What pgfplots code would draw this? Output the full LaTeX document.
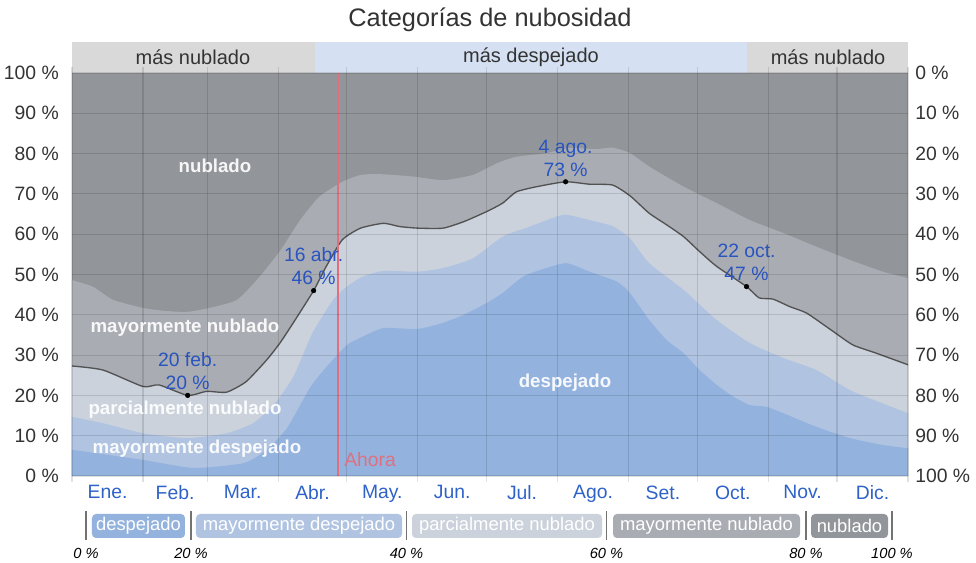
\documentclass[border=0pt]{standalone}
\usepackage{pgfplots}
\pgfplotsset{compat=1.18}
\usepackage{pgfplotstable}
\usepackage{fontspec}
\setmainfont{Liberation Sans}

\definecolor{cdesp}{HTML}{93B2DE}
\definecolor{cmdesp}{HTML}{B0C4E2}
\definecolor{cparc}{HTML}{CBD2DC}
\definecolor{cmnub}{HTML}{A9ACB2}
\definecolor{cnub}{HTML}{929599}
\definecolor{bandgray}{HTML}{D9D9DA}
\definecolor{bandblue}{HTML}{D5E1F2}
\definecolor{monthblue}{HTML}{2E62C8}
\definecolor{annblue}{HTML}{2A55C0}
\definecolor{ahora}{HTML}{E07080}
\definecolor{txt}{HTML}{333333}

% top of "despejado"
\pgfplotstableread{
d v
0 6.5
15 5.3
31 4.0
53 2.0
75 3.2
85 6.5
94 12.0
104 22.0
111 27.0
120 32.5
127 34.6
136 36.7
151 36.5
162 38.0
171 40.0
181 42.9
188 45.4
197 49.5
207 51.6
216 52.8
226 50.7
238 48.2
243.6 45.4
252 38.7
259.7 33.7
267 30.5
274 26.3
281.5 22.6
288.7 19.7
296 17.6
303 17.2
310.5 15.6
325 12.2
339.7 9.4
354 7.7
365 6.9
}\bone

% top of "mayormente despejado"
\pgfplotstableread{
d v
0 14.7
13.5 13.1
31 10.6
50 9.4
67.5 10.6
79 13.1
88 17.6
96.6 24.6
105 35.5
114 43.7
120 47.0
127 49.5
136 50.9
151 50.7
162 51.6
175 54.0
188 59.4
200 61.9
214.5 64.8
226 63.5
236 62.0
243.6 59.0
252 52.8
267 46.2
281.5 38.7
296 33.0
310.5 29.3
325 26.3
339.7 21.3
354 18.0
365 15.6
}\btwo

% top of "parcialmente nublado" (black line)
\pgfplotstableread{
d v
0 27.3
13.5 26.3
31 22.2
38 22.6
50.5 20.0
58.8 21.0
67.5 20.8
76 23.4
85 28.8
90.8 33.0
96.6 38.0
105.5 46.0
111 52.0
118 58.6
126 61.5
136 62.7
143 61.9
151 61.5
162 61.5
171 63.1
181 65.6
188 67.7
194 70.5
203 71.8
215.5 73.0
226 72.4
236 72.2
243.7 69.5
252 65.2
259.7 62.3
267 59.4
274 55.7
281.5 52.0
294.5 47.0
300 44.2
306 43.9
313.5 42.0
320.8 40.4
332.5 35.8
341 32.5
351 30.5
365 27.6
}\bthree

% top of "mayormente nublado"
\pgfplotstableread{
d v
0 48.6
9 47.0
18 43.7
31 41.7
40 41.0
50 40.7
60 41.7
72 43.7
82 49.5
91 56.0
99.6 63.5
108 69.3
118 73.0
126 74.7
134.5 74.9
149 74.3
162 73.4
175 74.7
185.5 77.6
194 79.2
207 80.1
217.5 81.4
229 81.1
236 81.5
243.7 80.1
252 76.8
267 71.8
281.5 67.7
296 63.5
310.5 60.3
325 56.9
339.7 53.6
354 50.7
365 49.1
}\bfour

\newcommand{\tickfont}{\fontsize{14.5}{17}\selectfont}
\newcommand{\monthfont}{\fontsize{14.5}{17}\selectfont}
\newcommand{\annfont}{\fontsize{14.5}{17.25}\selectfont}
\newcommand{\catfont}{\fontsize{14}{16}\selectfont\bfseries}

\begin{document}
\begin{tikzpicture}
\useasboundingbox (-54pt,-65.25pt) rectangle (678pt,357pt);
\begin{axis}[
    at={(0,0)}, anchor=south west,
    scale only axis, width=627pt, height=302.25pt,
    xmin=0, xmax=365, ymin=0, ymax=100,
    clip=false,
    axis on top,
    axis background/.style={fill=cnub},
    axis line style={draw=none},
    xtick={0,31,59,90,120,151,181,212,243,273,304,334,365},
    xticklabels={},
    extra x ticks={15.5,45,74.5,105,135.5,166,196.5,227.5,258,288.5,319,349.5},
    extra x tick labels={Ene.,Feb.,Mar.,Abr.,May.,Jun.,Jul.,Ago.,Set.,Oct.,Nov.,Dic.},
    extra x tick style={grid=none, major tick length=0pt,
        xticklabel style={text=monthblue, font=\monthfont, inner sep=0pt, yshift=-7pt}},
    tick align=outside,
    xtick style={draw=black, draw opacity=0.12, line width=0.8pt},
    major tick length=4.5pt,
    ytick={0,10,...,100},
    yticklabels={0 \%,10 \%,20 \%,30 \%,40 \%,50 \%,60 \%,70 \%,80 \%,90 \%,100 \%},
    ytick style={draw=none},
    yticklabel style={font=\tickfont, text=txt, inner sep=0pt, xshift=-5.25pt},
    grid=major,
    major grid style={draw=black, draw opacity=0.12, line width=0.8pt},
]
% stacked cloud-cover layers
\addplot[fill=cmnub, draw=none, smooth, tension=0.35] table {\bfour} \closedcycle;
\addplot[fill=cparc, draw=none, smooth, tension=0.35] table {\bthree} \closedcycle;
\addplot[fill=cmdesp, draw=none, smooth, tension=0.35] table {\btwo} \closedcycle;
\addplot[fill=cdesp, draw=none, smooth, tension=0.35] table {\bone} \closedcycle;
\addplot[draw=black!68, line width=1pt, smooth, tension=0.35] table {\bthree};

% "now" line
\addplot[draw=ahora, line width=1.1pt] coordinates {(116.1,0) (116.1,100)};

% top band
\addplot[fill=bandgray, draw=none] coordinates {(0,100) (0,107.7) (106.1,107.7) (106.1,100)} --cycle;
\addplot[fill=bandblue, draw=none] coordinates {(106.1,100) (106.1,107.7) (294.8,107.7) (294.8,100)} --cycle;
\addplot[fill=bandgray, draw=none] coordinates {(294.8,100) (294.8,107.7) (365,107.7) (365,100)} --cycle;
\node[font=\fontsize{15}{18}\selectfont, text=txt] at (axis cs:52.8,103.9) {más nublado};
\node[font=\fontsize{15}{18}\selectfont, text=txt] at (axis cs:200.4,103.9) {más despejado};
\node[font=\fontsize{15}{18}\selectfont, text=txt] at (axis cs:330.1,103.9) {más nublado};

% extremes
\addplot[only marks, mark=*, mark size=1.7pt, black] coordinates {(50.5,20) (105.5,46) (215.5,73) (294.5,47)};
\node[anchor=south, align=center, font=\annfont, text=annblue, inner sep=0pt, yshift=4pt] at (axis cs:50.5,20) {20 feb.\\20 \%};
\node[anchor=south, align=center, font=\annfont, text=annblue, inner sep=0pt, yshift=4pt] at (axis cs:105.5,46) {16 abr.\\46 \%};
\node[anchor=south, align=center, font=\annfont, text=annblue, inner sep=0pt, yshift=4pt] at (axis cs:215.5,73) {4 ago.\\73 \%};
\node[anchor=south, align=center, font=\annfont, text=annblue, inner sep=0pt, yshift=4pt] at (axis cs:294.5,47) {22 oct.\\47 \%};
\end{axis}

% right-hand scale (inverse)
\begin{axis}[
    at={(0,0)}, anchor=south west,
    scale only axis, width=627pt, height=302.25pt,
    xmin=0, xmax=365, ymin=0, ymax=100,
    hide x axis, axis y line*=right,
    axis line style={draw=none},
    ytick={0,10,...,100},
    yticklabels={100 \%,90 \%,80 \%,70 \%,60 \%,50 \%,40 \%,30 \%,20 \%,10 \%,0 \%},
    ytick style={draw=none},
    yticklabel style={font=\tickfont, text=txt, inner sep=0pt, xshift=5.25pt},
]
\addplot[draw=none] coordinates {(0,0) (365,100)};
\end{axis}

% annotations in pixel units of the reference
\begin{scope}[shift={(-54pt,357pt)}, x=0.75pt, y=-0.75pt]
\node[font=\fontsize{19}{22}\selectfont, text=txt] at (490,20) {Categorías de nubosidad};

\node[font=\catfont, text=white, opacity=0.92] at (215,166) {nublado};
\node[font=\catfont, text=white, opacity=0.92] at (185,328) {mayormente nublado};
\node[font=\catfont, text=white, opacity=0.92] at (185,410) {parcialmente nublado};
\node[font=\catfont, text=white, opacity=0.92] at (197,449) {mayormente despejado};
\node[font=\catfont, text=white, opacity=0.92] at (565,383) {despejado};
\node[font=\fontsize{14.5}{17}\selectfont, text=ahora, anchor=west, inner sep=0pt] at (344,460) {Ahora};

% legend bar
\fill[cdesp, rounded corners=3pt] (92,514) rectangle (185,538);
\fill[cmdesp, rounded corners=3pt] (196,514) rectangle (402,538);
\fill[cparc, rounded corners=3pt] (412,514) rectangle (602,538);
\fill[cmnub, rounded corners=3pt] (613,514) rectangle (800,538);
\fill[cnub, rounded corners=3pt] (811,514) rectangle (888,538);
\foreach \xx/\lab in {138.5/despejado, 299/mayormente despejado, 507/parcialmente nublado, 706.5/mayormente nublado, 849.5/nublado}
  \node[font=\fontsize{13.8}{16}\selectfont, text=white] at (\xx,526) {\lab};
\foreach \xx/\lab in {86/0, 191/20, 406.5/40, 606.5/60, 806/80, 892/100} {
  \draw[black!55, line width=1.2pt] (\xx,511) -- (\xx,540);
  \node[font=\fontsize{11}{13}\selectfont\itshape, text=black] at (\xx,553) {\lab~\%};
}
\end{scope}
\end{tikzpicture}
\end{document}
